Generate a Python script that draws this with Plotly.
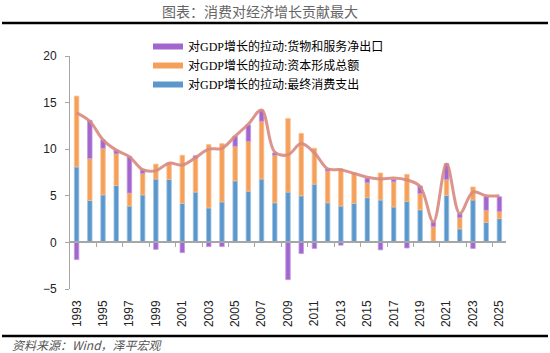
import plotly.graph_objects as go

years = list(range(1993, 2026))
consumption = [8.1, 4.5, 5.1, 6.1, 3.9, 5.1, 6.8, 6.75, 4.2, 5.4, 3.7, 4.35, 6.6, 5.5, 6.8, 4.25,
               5.4, 5.0, 6.25, 4.25, 3.9, 4.2, 4.8, 4.55, 3.8, 4.4, 3.5, 0.0, 5.05, 1.45, 4.55, 2.15, 2.55]
capital = [7.6, 4.5, 5.0, 3.4, 1.4, 2.3, 1.6, 1.75, 5.15, 3.6, 6.8, 6.25, 3.7, 5.35, 6.2, 5.1,
           7.9, 6.7, 3.85, 3.4, 4.0, 3.2, 1.6, 2.9, 2.7, 2.9, 1.75, 1.7, 1.7, 1.2, 1.4, 1.3, 0.75]
net_exports = [-1.85, 4.1, 0.9, 0.4, 3.9, 0.4, -0.75, 0.0, -1.1, 0.3, -0.45, -0.45, 1.1, 1.75, 1.2, 0.25,
               -4.0, -1.2, -0.65, 0.25, -0.3, 0.0, 0.5, -0.8, 0.25, -0.6, 0.8, 0.5, 1.7, 0.45, -0.65, 1.45, 1.6]
gdp_growth = [13.9, 13.0, 11.0, 9.9, 9.2, 7.8, 7.7, 8.5, 8.3, 9.1, 10.0, 10.1, 11.4, 12.7, 14.2, 9.7,
              9.4, 10.6, 9.6, 7.9, 7.8, 7.4, 7.0, 6.8, 6.9, 6.7, 6.0, 2.2, 8.4, 3.1, 5.4, 5.0, 5.0]

name_c = "对GDP增长的拉动:最终消费支出"
name_k = "对GDP增长的拉动:资本形成总额"
name_n = "对GDP增长的拉动:货物和服务净出口"
label_years = years[::2]
boundary_ticks = [y + 0.5 for y in years[1:-1:2]]

BLUE = "#5B97CB"
ORANGE = "#F5A05A"
PURPLE = "#A266CF"
LINE = "rgba(216,138,128,0.9)"

fig = go.Figure()
fig.add_bar(x=years, y=consumption, name=name_c, marker=dict(color=BLUE, line=dict(color="#9CC3E4", width=0.8)),
            width=0.34, showlegend=False)
fig.add_bar(x=years, y=capital, name=name_k, marker=dict(color=ORANGE, line=dict(color="#F9C08E", width=0.8)),
            width=0.34, showlegend=False)
fig.add_bar(x=years, y=net_exports, name=name_n, marker=dict(color=PURPLE, line=dict(color="#C29BE0", width=0.8)),
            width=0.34, showlegend=False)
fig.add_scatter(x=years, y=gdp_growth, mode="lines", xaxis="x2",
                line=dict(shape="spline", smoothing=1, color=LINE, width=3), showlegend=False)

# legend entries
for nm, col in [(name_n, PURPLE), (name_k, ORANGE), (name_c, BLUE)]:
    fig.add_scatter(x=[None], y=[None], mode="lines", name=nm, line=dict(color=col, width=6))

fig.update_layout(
    width=550, height=353,
    margin=dict(l=70, r=44, t=56, b=64),
    barmode="relative",
    plot_bgcolor="white", paper_bgcolor="white",
    title=dict(text="图表：消费对经济增长贡献最大", x=260/550, xanchor="center", y=1-12/353, yanchor="middle",
               font=dict(family="Noto Sans CJK SC", size=14, color="#666666")),
    xaxis=dict(range=[1992.5, 2025.5], tickmode="array", tickvals=label_years, ticktext=[str(y) for y in label_years],
               tickangle=-90, ticks="", showline=False, showgrid=False, zeroline=False,
               tickfont=dict(family="Liberation Sans, Arial", size=12, color="#222"), ticklabelstandoff=8),
    xaxis2=dict(range=[1992.5, 2025.5], overlaying="x", anchor="free", position=0.2, side="bottom",
                tickmode="array", tickvals=boundary_ticks, showticklabels=False,
                ticks="outside", ticklen=4, tickcolor="#A6A6A6", tickwidth=1,
                showline=True, linecolor="#A6A6A6", linewidth=1.5, showgrid=False, zeroline=False),
    yaxis=dict(range=[-5, 20], dtick=5, showline=True, linecolor="#A6A6A6", linewidth=1,
               ticks="outside", ticklen=4, tickcolor="#A6A6A6", showgrid=False, zeroline=False,
               tickfont=dict(family="Liberation Sans, Arial", size=12, color="#222"), ticklabelstandoff=6),
    legend=dict(x=(148-70)/436, xanchor="left", y=(289-32)/233, yanchor="top", traceorder="normal",
                bgcolor="rgba(0,0,0,0)", font=dict(family="Liberation Serif, Noto Sans CJK SC", size=12, color="#000"),
                itemwidth=30),
    shapes=[
        dict(type="line", xref="paper", yref="paper", x0=(2-70)/436, x1=(548-70)/436,
             y0=(289-23)/233, y1=(289-23)/233, line=dict(color="#000", width=2.5)),
        dict(type="line", xref="paper", yref="paper", x0=(2-70)/436, x1=(548-70)/436,
             y0=(289-336)/233, y1=(289-336)/233, line=dict(color="#000", width=2.5)),
    ],
    annotations=[
        dict(text="资料来源：Wind，泽平宏观", xref="paper", yref="paper", x=(10-70)/436, y=(289-344)/233,
             xanchor="left", yanchor="middle", showarrow=False,
             font=dict(family="Noto Sans CJK SC", size=12, color="#555", style="italic")),
    ],
)

fig.write_html("out.html")
